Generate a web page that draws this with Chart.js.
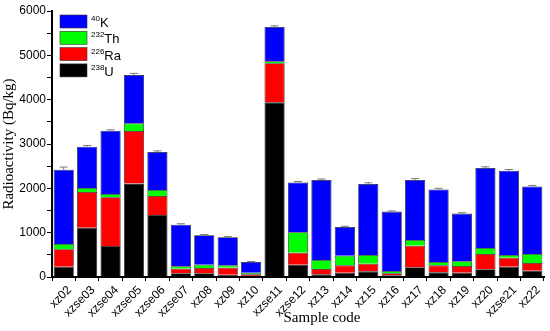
<!DOCTYPE html>
<html>
<head>
<meta charset="utf-8">
<script src="https://cdn.jsdelivr.net/npm/chart.js@4/dist/chart.umd.min.js"></script>
<style>
  html, body { margin: 0; padding: 0; background: #fff; }
  #wrap { width: 550px; height: 331px; }
</style>
</head>
<body>
<div id="wrap"><canvas id="radio_chart"></canvas></div>
<script>
const samples = ['xz02', 'xzse03', 'xzse04', 'xzse05', 'xzse06', 'xzse07', 'xz08', 'xz09', 'xz10', 'xzse11',
    'xzse12', 'xz13', 'xz14', 'xz15', 'xz16', 'xz17', 'xz18', 'xz19', 'xz20', 'xzse21', 'xz22'];

// stacked from the bottom: U, Ra, Th, K (Bq/kg)
const u238 = [233, 1113, 700, 2110, 1400, 83, 83, 53, 22, 3940, 278, 60, 97, 128, 38, 219, 105, 97, 174, 233, 142];
const ra226 = [392, 806, 1099, 1186, 428, 105, 120, 157, 38, 884, 271, 121, 166, 172, 45, 488, 158, 151, 345, 203, 174];
const th232 = [120, 90, 75, 170, 136, 53, 75, 53, 37, 45, 459, 203, 218, 197, 52, 128, 76, 106, 136, 61, 203];
const k40 = [1675, 931, 1426, 1092, 856, 940, 663, 633, 242, 771, 1122, 1806, 649, 1603, 1340, 1355, 1636, 1076, 1805, 1898, 1521];
// error on the total
const totalErr = [60, 25, 20, 35, 25, 20, 15, 15, 10, 25, 25, 20, 15, 25, 15, 30, 25, 20, 25, 30, 25];

const legendItems = [
    { sup: '40', name: 'K', color: '#0000ff' },
    { sup: '232', name: 'Th', color: '#00ff00' },
    { sup: '226', name: 'Ra', color: '#ff0000' },
    { sup: '238', name: 'U', color: '#000000' },
];

// legend drawn inside the plot, top left, plus the x title
const insideLegend = {
    id: 'insideLegend',
    afterDraw(chart) {
        const ctx = chart.ctx;
        const x0 = 60, y0 = 15;
        ctx.save();
        legendItems.forEach((item, i) => {
            const y = y0 + i * 16.3;
            ctx.fillStyle = item.color;
            ctx.fillRect(x0, y, 27, 13);
            ctx.strokeStyle = '#333';
            ctx.lineWidth = 0.6;
            ctx.strokeRect(x0, y, 27, 13);
            ctx.fillStyle = '#000';
            ctx.textBaseline = 'alphabetic';
            ctx.font = '8px "Liberation Sans"';
            ctx.fillText(item.sup, x0 + 31, y + 6);
            const w = ctx.measureText(item.sup).width;
            ctx.font = '13px "Liberation Sans"';
            ctx.fillText(item.name, x0 + 31 + w, y + 12);
        });
        ctx.font = '15px "Liberation Serif"';
        ctx.textAlign = 'center';
        ctx.fillText('Sample code', 322, 322);
        ctx.restore();
    }
};

// small error caps above each stack
const errorCaps = {
    id: 'errorCaps',
    afterDatasetsDraw(chart) {
        const ctx = chart.ctx;
        const meta = chart.getDatasetMeta(3);
        const yScale = chart.scales.y;
        ctx.save();
        ctx.strokeStyle = '#777';
        ctx.lineWidth = 1;
        meta.data.forEach((bar, i) => {
            const total = u238[i] + ra226[i] + th232[i] + k40[i];
            const yTop = yScale.getPixelForValue(total + totalErr[i]);
            ctx.beginPath();
            ctx.moveTo(bar.x, bar.y);
            ctx.lineTo(bar.x, yTop);
            ctx.moveTo(bar.x - 4, yTop);
            ctx.lineTo(bar.x + 4, yTop);
            ctx.stroke();
        });
        ctx.restore();
    }
};

const ctx = document.getElementById('radio_chart').getContext('2d');
const radio_chart = new Chart(ctx, {
    type: 'bar',
    data: {
        labels: samples,
        datasets: [
            { label: '238U', data: u238, backgroundColor: '#000000' },
            { label: '226Ra', data: ra226, backgroundColor: '#ff0000' },
            { label: '232Th', data: th232, backgroundColor: '#00ff00' },
            { label: '40K', data: k40, backgroundColor: '#0000ff' },
        ].map(d => Object.assign(d, {
            borderColor: '#222',
            borderWidth: 0.8,
            barPercentage: 0.86,
            categoryPercentage: 1
        }))
    },
    options: {
        responsive: true,
        maintainAspectRatio: false,
        animation: false,
        layout: { padding: { left: 0, right: 6, top: 11, bottom: 0 } },
        plugins: {
            legend: { display: false },
            tooltip: { enabled: false }
        },
        scales: {
            x: {
                stacked: true,
                grid: { display: true, drawOnChartArea: false, color: '#000', tickLength: 4 },
                border: { color: '#000', width: 2 },
                ticks: {
                    color: '#000',
                    font: { family: '"Liberation Sans"', size: 12 },
                    maxRotation: 45,
                    minRotation: 45,
                    autoSkip: false,
                    padding: 2,
                    labelOffset: 6
                },
                afterFit(scale) { scale.height = 54; }
            },
            y: {
                stacked: true,
                min: 0,
                max: 6000,
                grid: {
                    display: true,
                    drawOnChartArea: false,
                    color: '#000',
                    tickLength: 5
                },
                border: { color: '#000', width: 2 },
                ticks: {
                    stepSize: 500,
                    color: '#000',
                    font: { family: '"Liberation Sans"', size: 12 },
                    padding: 1,
                    callback: v => (v % 1000 === 0 ? v : '')
                },
                title: {
                    display: true,
                    text: 'Radioactivity (Bq/kg)',
                    color: '#000',
                    font: { family: '"Liberation Serif"', size: 15 },
                    padding: { top: 0, bottom: 0 }
                },
                afterFit(scale) { scale.width = 52; }
            }
        }
    },
    plugins: [insideLegend, errorCaps]
});
</script>
</body>
</html>
